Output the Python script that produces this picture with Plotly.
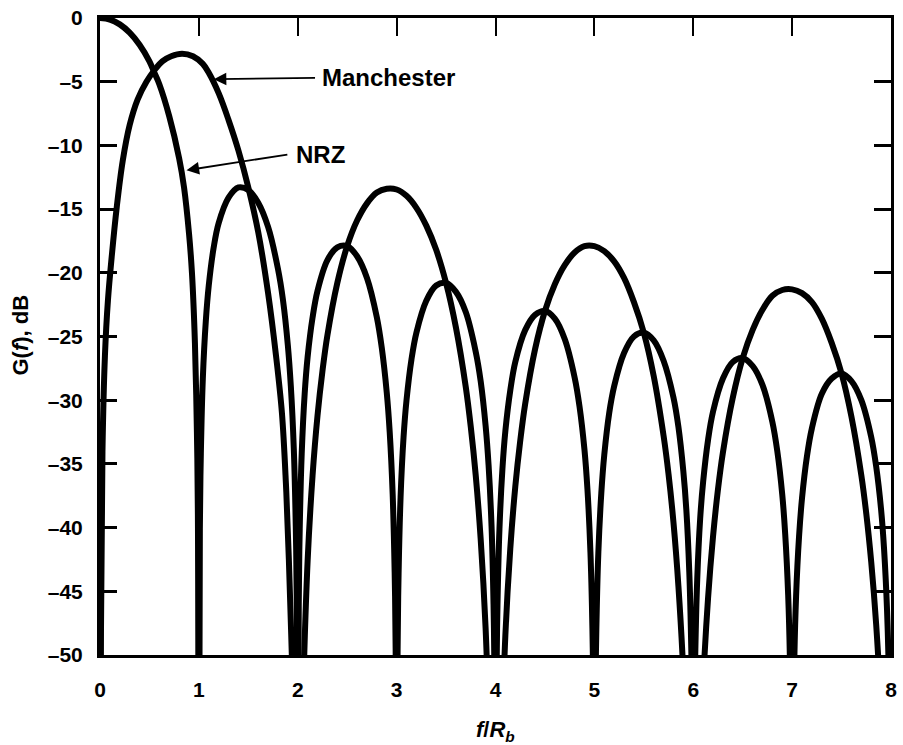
import plotly.graph_objects as go

# ---- data (f/Rb, dB); -75 marks a null below the axis ----
nrz_f = [0.00, 0.10, 0.20, 0.30, 0.40, 0.50, 0.55, 0.60, 0.70, 0.80, 0.85, 0.90, 0.93, 0.96, 0.98, 0.99, 1.00,
         1.01, 1.02, 1.04, 1.07, 1.10, 1.15, 1.20, 1.30, 1.40, 1.50, 1.60, 1.70, 1.80, 1.85, 1.90, 1.93, 1.96, 1.98, 1.99, 2.00,
         2.01, 2.02, 2.04, 2.07, 2.10, 2.15, 2.20, 2.30, 2.40, 2.50, 2.60, 2.70, 2.80, 2.85, 2.90, 2.93, 2.96, 2.98, 2.99, 3.00,
         3.01, 3.02, 3.04, 3.07, 3.10, 3.15, 3.20, 3.30, 3.40, 3.50, 3.60, 3.70, 3.80, 3.85, 3.90, 3.93, 3.96, 3.98, 3.99, 4.00,
         4.01, 4.02, 4.04, 4.07, 4.10, 4.15, 4.20, 4.30, 4.40, 4.50, 4.60, 4.70, 4.80, 4.85, 4.90, 4.93, 4.96, 4.98, 4.99, 5.00,
         5.01, 5.02, 5.04, 5.07, 5.10, 5.15, 5.20, 5.30, 5.40, 5.50, 5.60, 5.70, 5.80, 5.85, 5.90, 5.93, 5.96, 5.98, 5.99, 6.00,
         6.01, 6.02, 6.04, 6.07, 6.10, 6.15, 6.20, 6.30, 6.40, 6.50, 6.60, 6.70, 6.80, 6.85, 6.90, 6.93, 6.96, 6.98, 7.00,
         7.02, 7.04, 7.07, 7.10, 7.15, 7.20, 7.30, 7.40, 7.50, 7.60, 7.70, 7.80, 7.85, 7.90, 7.93, 7.96, 7.98, 8.00]
nrz_db = [0.0, -0.12, -0.5, -1.15, -2.1, -3.4, -4.3, -5.2, -7.7, -11.0, -13.3, -16.9, -20.0, -25.5, -32.5, -39.0, -75,
          -40.1, -34.2, -28.3, -23.8, -21.0, -18.0, -16.1, -14.1, -13.3, -13.5, -14.5, -16.4, -19.7, -22.1, -25.7, -28.9, -33.8, -39.9, -46.0, -75,
          -46.1, -40.1, -34.2, -29.5, -26.6, -23.5, -21.4, -19.0, -18.0, -17.9, -18.7, -20.4, -23.5, -25.9, -29.4, -32.5, -37.4, -43.5, -49.5, -75,
          -49.6, -43.6, -37.6, -32.9, -30.0, -26.8, -24.7, -22.2, -21.0, -20.8, -21.5, -23.1, -26.2, -28.5, -32.0, -35.1, -39.9, -46.0, -52.0, -75,
          -52.1, -46.1, -40.1, -35.4, -32.4, -29.2, -27.0, -24.5, -23.3, -23.0, -23.6, -25.2, -28.2, -30.5, -33.9, -37.0, -41.9, -47.9, -54.0, -75,
          -54.0, -48.0, -42.0, -37.3, -34.3, -31.0, -28.9, -26.3, -25.0, -24.7, -25.3, -26.9, -29.8, -32.1, -35.6, -38.6, -43.5, -49.5, -55.5, -75,
          -55.6, -50.1, -44.1, -39.3, -36.4, -33.1, -30.9, -28.3, -27.0, -26.7, -27.3, -28.8, -31.7, -34.0, -37.4, -40.5, -45.3, -51.4, -75,
          -51.4, -45.4, -40.7, -37.7, -34.4, -32.2, -29.5, -28.3, -27.9, -28.5, -30.0, -32.9, -35.2, -38.6, -41.7, -46.5, -52.5, -75]

man_f = [0.00, 0.01, 0.025, 0.05, 0.08, 0.12, 0.17, 0.23, 0.30, 0.38, 0.47, 0.55, 0.63, 0.72, 0.83, 0.94, 1.04,
         1.10, 1.20, 1.30, 1.40, 1.50, 1.60, 1.70, 1.78, 1.84, 1.88, 1.91, 1.94, 1.97, 2.00,
         2.05, 2.10, 2.15, 2.20, 2.25, 2.30, 2.40, 2.50, 2.60, 2.70, 2.80, 2.90, 3.00, 3.10, 3.20, 3.30, 3.40,
         3.50, 3.60, 3.70, 3.75, 3.80, 3.85, 3.90, 3.95, 4.00,
         4.05, 4.10, 4.15, 4.20, 4.25, 4.30, 4.40, 4.50, 4.60, 4.70, 4.80, 4.90, 5.00, 5.10, 5.20, 5.30, 5.40,
         5.50, 5.60, 5.70, 5.75, 5.80, 5.85, 5.90, 5.95, 6.00,
         6.05, 6.10, 6.15, 6.20, 6.25, 6.30, 6.40, 6.50, 6.60, 6.70, 6.80, 6.90, 7.00, 7.10, 7.20, 7.30, 7.40,
         7.50, 7.60, 7.70, 7.75, 7.80, 7.85, 7.90, 7.95, 8.00]
man_db = [-75, -48, -34, -26.5, -22.2, -18.6, -14.8, -11.2, -8.4, -6.4, -5.0, -4.1, -3.4, -3.0, -2.8, -3.0, -3.6,
          -4.3, -5.9, -8.0, -10.4, -13.3, -16.8, -21.6, -26.5, -31.0, -36.5, -42.5, -50.0, -58.0, -75,
          -54.4, -42.6, -35.9, -31.2, -27.7, -24.9, -20.8, -17.9, -15.9, -14.55, -13.7, -13.4, -13.46, -13.96, -14.9, -16.3, -18.2,
          -20.8, -24.3, -29.0, -32.1, -35.9, -40.9, -47.9, -60.1, -75,
          -60.3, -48.4, -41.6, -36.8, -33.2, -30.3, -26.0, -23.0, -20.9, -19.4, -18.4, -17.9, -17.9, -18.3, -19.1, -20.4, -22.3,
          -24.7, -28.1, -32.8, -35.8, -39.6, -44.6, -51.5, -63.6, -75,
          -64.3, -52.3, -45.5, -40.7, -37.0, -34.1, -29.8, -26.7, -24.5, -22.9, -21.8, -21.35, -21.3, -21.6, -22.3, -23.6, -25.5,
          -27.9, -31.3, -35.9, -38.9, -42.7, -47.6, -54.6, -66.0, -75]

x_ticks = [0, 1, 2, 3, 4, 5, 6, 7, 8]
x_tick_labels = ["0", "1", "2", "3", "4", "5", "6", "7", "8"]
y_ticks = [0, -5, -10, -15, -20, -25, -30, -35, -40, -45, -50]
y_tick_labels = ["0", "\u20135", "\u201310", "\u201315", "\u201320", "\u201325", "\u201330",
                 "\u201335", "\u201340", "\u201345", "\u201350"]

FONT = "Liberation Sans, Arial, Helvetica, sans-serif"
LINE = dict(color="black", width=6, shape="spline", smoothing=1.0)

fig = go.Figure()
fig.add_trace(go.Scatter(x=nrz_f, y=nrz_db, mode="lines", name="NRZ", line=LINE, hoverinfo="skip"))
fig.add_trace(go.Scatter(x=man_f, y=man_db, mode="lines", name="Manchester", line=LINE, hoverinfo="skip"))

fig.update_layout(
    width=903, height=745,
    margin=dict(l=100, r=6, t=15, b=90),
    paper_bgcolor="white", plot_bgcolor="white",
    showlegend=False,
    font=dict(family=FONT, color="black"),
    xaxis=dict(range=[0, 8], tickvals=x_ticks, ticktext=x_tick_labels,
               ticks="inside", ticklen=18, tickwidth=2, tickcolor="black",
               showline=True, linewidth=3, linecolor="black", mirror="ticks",
               showgrid=False, zeroline=False, ticklabelstandoff=14,
               tickfont=dict(size=21, weight="bold", family=FONT, color="black")),
    yaxis=dict(range=[-50, 0], tickvals=y_ticks, ticktext=y_tick_labels, ticks="inside",
               ticklen=17, tickwidth=2.5, tickcolor="black",
               showline=True, linewidth=3, linecolor="black", mirror="ticks",
               showgrid=False, zeroline=False, ticklabelstandoff=10,
               tickfont=dict(size=21, weight="bold", family=FONT, color="black")),
)

ann_font = dict(size=24, weight="bold", family=FONT, color="black")
fig.add_annotation(x=1.15, y=-4.8, ax=2.19, ay=-4.7, axref="x", ayref="y", xref="x", yref="y",
                   text="", showarrow=True, arrowhead=2, arrowsize=1.4, arrowwidth=1.8,
                   arrowcolor="black")
fig.add_annotation(x=2.23, y=-4.7, xref="x", yref="y", text="Manchester", showarrow=False,
                   xanchor="left", yanchor="middle", font=ann_font)
fig.add_annotation(x=0.875, y=-11.95, ax=1.91, ay=-10.7, axref="x", ayref="y", xref="x", yref="y",
                   text="", showarrow=True, arrowhead=2, arrowsize=1.4, arrowwidth=1.8,
                   arrowcolor="black")
fig.add_annotation(x=1.96, y=-10.7, xref="x", yref="y", text="NRZ", showarrow=False,
                   xanchor="left", yanchor="middle", font=ann_font)

fig.add_annotation(x=-0.100, y=0.503, xref="paper", yref="paper", text="G(<i>f</i>), dB",
                   textangle=-90, showarrow=False, xanchor="center", yanchor="middle",
                   font=dict(size=22, weight="bold", family=FONT, color="black"))
fig.add_annotation(x=0.5, y=-0.119, xref="paper", yref="paper",
                   text="<i>f</i>/<i>R</i><sub><i>b</i></sub>",
                   showarrow=False, xanchor="center", yanchor="middle",
                   font=dict(size=22, weight="bold", family=FONT, color="black"))

fig.write_html("out.html")
